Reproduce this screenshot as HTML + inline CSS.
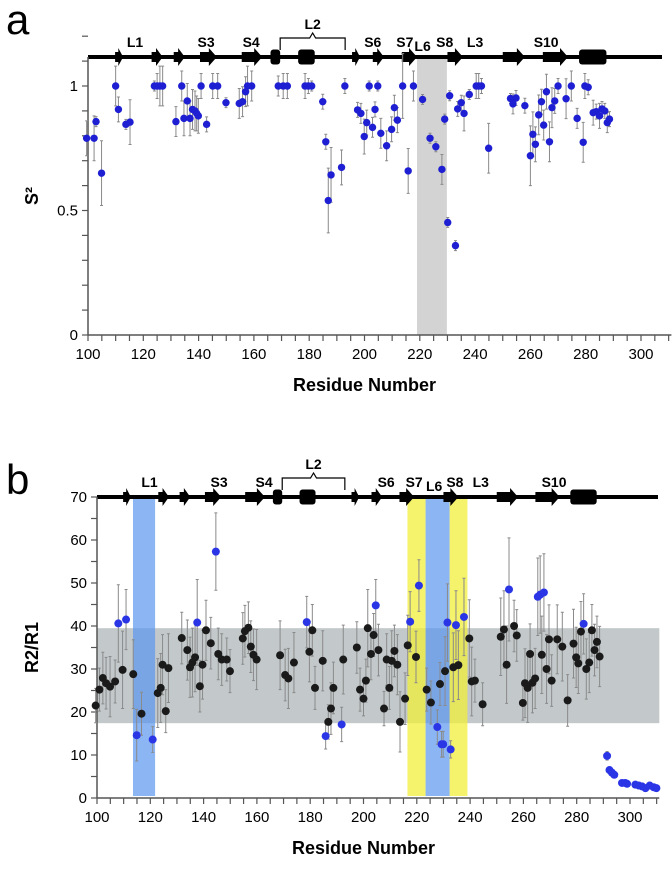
<!DOCTYPE html>
<html><head><meta charset="utf-8"><style>
html,body{margin:0;padding:0;background:#fff}
svg{display:block;font-family:"Liberation Sans",sans-serif}
</style></head><body>
<svg id="chart" width="672" height="874" viewBox="0 0 672 874" xmlns="http://www.w3.org/2000/svg">
<g id="pa"></g>
<g id="pb"></g>
</svg>
<script>
// ---------- data ----------
const aRes=[99.5,102.2,102.9,104.9,110,111,113.7,115.2,124,125,126,127,131.8,133.9,134.7,135.9,136.9,137.8,138.7,139.3,139.9,140.9,142.9,145.1,146.9,149.9,154.7,155.9,157,157.7,159.2,168.8,170.6,172.1,178.5,179.7,180.9,184.9,186,186.9,187.9,191.7,192.9,197.5,198.7,199.9,200.8,201.7,202.9,203.8,204.8,205.9,208,209.8,210.8,211.9,213.8,215.8,217.7,221,223.7,225.8,228,229,230.1,230.8,232.9,233.7,235,236,237.9,240.4,241.3,242.3,244.9,252.8,253.7,254.8,258,260,260.9,261.8,263,264,264.8,265.8,266.9,267.8,268.8,270,272.9,274.8,276.9,279.1,279.7,280.9,282.7,283.8,285,285.9,286.9,287.8,288.6];
const aVal=[.79,.79,.857,.65,1,.906,.846,.855,1,1,1,1,.857,1,.87,.94,.87,.906,.9,.89,.88,1,.846,1,1,.933,.93,.937,.977,1,1,1,1,1,1,1,1,.937,.776,.54,.643,.673,1,.904,.89,.797,.853,1,.834,.906,1,.81,.76,.826,.913,.863,1,.659,1,.946,.79,.756,.665,.867,.452,.961,.359,.908,.933,.89,.966,1,1,1,.75,.95,.928,.952,.921,.72,.806,.766,.884,.937,.843,.977,.776,.913,.94,1,.949,1,.87,.774,1,.995,.893,.897,.88,.908,.9,.853,.867];
const aErr=[.07,.09,.02,.13,.08,.05,.02,.09,.02,.05,.08,.08,.06,.06,.07,.07,.07,.08,.08,.07,.07,.05,.03,.05,.05,.02,.06,.06,.06,.08,.06,.04,.05,.05,.05,.03,.02,.03,.03,.13,.11,.07,.03,.03,.04,.07,.05,.02,.04,.03,.02,.06,.06,.05,.05,.05,.13,.09,.06,.02,.02,.02,.06,.02,.02,.02,.02,.03,.03,.07,.02,.05,.05,.03,.1,.02,.04,.03,.03,.12,.09,.07,.08,.05,.06,.07,.08,.08,.05,.03,.08,.06,.04,.08,.05,.03,.05,.03,.05,.03,.03,.04,.03];

const bRes=[99.5,100.9,102.2,103.4,104.9,106.8,108,109.6,110.9,113.6,114.9,116.7,120.9,122.8,123.9,124.6,125.8,126.8,131.8,133.9,134.9,135.8,136.8,137.6,138.6,139.6,140.9,142.7,144.6,145.5,146.8,148.7,149.9,154.7,155.5,156.8,157.7,158.7,159.9,168.7,170.6,171.8,173.9,178.7,179.7,180.8,181.8,184.7,185.8,186.8,187.8,188.7,191.8,192.4,197.5,198.7,200,200.9,201.6,202.8,203.8,204.6,205.6,207.7,208.7,209.7,210.6,211.6,212.7,213.7,215.6,216.6,217.5,219.7,220.8,223.7,225.3,227.7,228.7,229.3,229.9,230.6,231.5,232.7,233.7,234.7,235.6,237.7,239.7,240.6,241.8,244.7,251.5,252.7,253.7,254.6,256.5,257.5,259.8,260.6,261.6,262.5,263.4,264.4,265.4,266.3,266.9,267.7,268.7,269.6,270.6,272.7,274.6,276.6,278.8,279.8,280.6,281.6,282.6,283.6,284.7,285.7,286.7,287.6,288.6,291.4,292.3,293.2,294.1,297,298.2,298.9,302,303.3,304.5,305.8,307.4,308.9,309.9];
const bVal=[21.5,25.2,27.9,26.7,25.9,27.1,40.6,29.8,41.5,28.8,14.6,19.6,13.6,24.4,25.6,31,20.2,30.2,37.2,34.4,30.4,31.5,32.7,40.8,26,31,39,36,57.3,33.5,32.2,32.2,29.5,37.1,38.8,39.6,35.2,33.3,32.2,33.2,28.6,27.8,31.5,40.9,34,39,25.6,31.9,14.4,17.7,20.8,25.6,17.1,32.2,35,25.2,23.1,27.3,39.5,33.5,37.9,44.8,34.4,20.8,32.2,25.6,31.9,34.2,31,17.7,23.1,35.5,41,32.8,49.4,25.2,22.2,16.5,26.5,12.5,12.5,29.5,40.8,11.3,30.4,40.2,30.9,42.1,37.1,27.1,27.3,21.8,37.5,39.2,31,48.5,40,37.8,22.1,26.7,25.6,33.5,26.8,27.8,46.8,47.3,33.3,47.8,30,36.9,27.3,36.9,35.2,22.7,35.9,32.7,31.3,38.7,40.5,30,31.5,39,34.4,36.3,32.9,9.8,6.5,5.9,5.4,3.5,3.5,3.3,3.1,2.9,2.7,2.3,2.9,2.5,2.3];
const bErr=[4,5,6,6,7,5,9,9,7,8,6,5,3,8,8,7,5,8,6,7,7,8,8,10,6,8,7,6,9,6,6,5,5,6,6,6,6,6,7,8,6,7,7,6,7,6,5,7,3,4,6,6,4,8,6,5,4,5,9,6,5,6,6,4,6,5,7,6,7,7,6,7,7,6,6,5,5,4,5,3,3,8,9,2,8,8,8,9,9,8,5,5,9,9,9,12,6,6,4,8,8,7,7,7,9,9,9,9,8,8,6,8,8,6,8,7,7,7,7,7,7,6,6,6,7,1,0.5,0.5,0.5,0.5,0.5,0.5,0.3,0.3,0.3,0.3,0.3,0.3,0.3];
const bBlue=[0,0,0,0,0,0,1,0,1,0,1,0,1,0,0,0,0,0,0,0,0,0,0,1,0,0,0,0,1,0,0,0,0,0,0,0,0,0,0,0,0,0,0,1,0,0,0,0,1,0,0,0,1,0,0,0,0,0,0,0,0,1,0,0,0,0,0,0,0,0,0,0,1,0,1,0,0,1,0,1,1,0,1,1,0,1,0,1,0,0,0,0,0,0,0,1,0,0,0,0,0,0,0,0,1,1,0,1,0,0,0,0,0,0,0,0,0,0,1,0,0,0,0,0,0,1,1,1,1,1,1,1,1,1,1,1,1,1,1];

const xTicks=[100,120,140,160,180,200,220,240,260,280,300];
const aYTicks=[0,0.5,1];
const aYLabels=["0","0.5","1"];
const bYTicks=[0,10,20,30,40,50,60,70];

const arrows=[[109.8,112.7],[123,127],[131,135],[140.5,146.6],[155.6,163],[195.5,198.4],[203,207],[213.5,219],[230,235.6],[250,258],[264.5,273.6]];
const boxes=[[166,169.5],[176,182],[277.6,287.5]];
const ssLabels=["L1","S3","S4","S6","S7","L6","S8","L3","S10"];
const ssLabelResA=[117,142.7,159,203,214.6,221,229,240,265.7];
const ssLabelResB=[119.7,145.8,162.7,208.5,219,226.5,234.3,244,271.5];
const braceRange=[169.5,193];
const aShade=[219,229.8];
const bGreyBand=[17.4,39.5];
const bBlueBands=[[113.5,121.8],[223.3,232.3]];
const bYellowBands=[[216.5,223.3],[232.3,239]];

// ---------- helpers ----------
const NS="http://www.w3.org/2000/svg";
function mk(parent,tag,attrs,text){const e=document.createElementNS(NS,tag);for(const k in attrs)e.setAttribute(k,attrs[k]);if(text!==undefined)e.textContent=text;parent.appendChild(e);return e;}

function panel(g,o){
  const X=v=>o.x0+(v-100)*o.kx;
  const Y=v=>o.y0-(v-o.ymin)*o.ky;
  o.bands(g,X,Y);
  const sb=mk(g,'g',{});
  
  
  mk(sb,'line',{x1:o.x0,x2:o.barEnd,y1:o.barY,y2:o.barY,stroke:'#000','stroke-width':4});
  arrows.forEach(a=>{
    const x1=X(a[0]),x2=X(a[1]),w=x2-x1,hl=Math.min(8,w*0.6);
    const p=mk(sb,'path',{d:`M${x1},${o.barY-5}H${x2-hl}V${o.barY-9}L${x2},${o.barY}L${x2-hl},${o.barY+9}V${o.barY+5}H${x1}Z`,fill:'#000'});
    
    
  });
  boxes.forEach(b=>{
    const r=mk(sb,'rect',{x:X(b[0]),y:o.barY-7.5,width:X(b[1])-X(b[0]),height:15,rx:3,fill:'#000'});
    
    
  });
  const bx1=X(braceRange[0]),bx2=X(braceRange[1]),bm=(bx1+bx2)/2,bt=o.barY-19;
  const br=mk(sb,'path',{d:`M${bx1},${o.barY-7}V${bt}H${bm-3}l3,-5l3,5H${bx2}V${o.barY-7}`,fill:'none',stroke:'#000','stroke-width':1.2});
  
  
  const l2=mk(sb,'text',{x:bm,y:bt-9,'text-anchor':'middle','font-size':14,'font-weight':'bold'},'L2');
  
  
  ssLabels.forEach((s,i)=>{
    const dy=(s==='L6')?4:0;
    const t=mk(sb,'text',{x:X(o.labRes[i]),y:o.barY-10+dy,'text-anchor':'middle','font-size':14,'font-weight':'bold'},s);
    
    
  });
  const ax=mk(g,'g',{});
  
  
  mk(ax,'line',{x1:o.x0,x2:o.x0,y1:o.y0,y2:o.barY,stroke:'#555','stroke-width':1.5});
  mk(ax,'line',{x1:o.x0,x2:X(311),y1:o.y0,y2:o.y0,stroke:'#555','stroke-width':1.5});
  for(let v=100;v<=310;v+=5) mk(ax,'line',{x1:X(v),x2:X(v),y1:o.y0,y2:o.y0+6,stroke:'#555','stroke-width':1.2});
  for(let v=o.ymin;v<=o.ymaxTick+1e-9;v+=o.yminor) mk(ax,'line',{x1:o.x0-6,x2:o.x0,y1:Y(v),y2:Y(v),stroke:'#555','stroke-width':1.2});
  xTicks.forEach(v=>{const t=mk(ax,'text',{x:X(v),y:o.y0+24,'text-anchor':'middle','font-size':15},String(v));
    });
  o.yt.forEach((v,i)=>{const t=mk(ax,'text',{x:o.x0-10,y:Y(v)+5,'text-anchor':'end','font-size':15},o.yl[i]);
    });
  const xt=mk(ax,'text',{x:(o.x0+X(300))/2,y:o.y0+56,'text-anchor':'middle','font-size':18,'font-weight':'bold'},'Residue Number');
  
  const yt=mk(ax,'text',{x:0,y:0,'text-anchor':'middle','font-size':18,'font-weight':'bold',transform:`translate(${o.ytX},${(o.y0+o.barY)/2}) rotate(-90)`},o.ytitle);
  
  const pl=mk(g,'text',{x:6,y:o.letterY,'font-size':42},o.letter);
  
  const pts=mk(g,'g',{});
  
  
  o.res.forEach((r,i)=>{
    const x=X(r),e=o.err[i];
    const eb=mk(pts,'path',{d:`M${x},${Y(o.val[i]+e)}V${Y(o.val[i]-e)}M${x-1.5},${Y(o.val[i]+e)}h3M${x-1.5},${Y(o.val[i]-e)}h3`,stroke:'#8a8a8a','stroke-width':1,fill:'none'});
    
    
  });
  o.res.forEach((r,i)=>{
    const c=mk(pts,'circle',{cx:X(r),cy:Y(o.val[i]),r:o.r,fill:o.color(i)});
    
    
  });
}

panel(document.getElementById('pa'),{
  x0:88,kx:2.765,y0:335,ymin:0,ky:249,barY:57,barEnd:662,ymaxTick:1.2,yminor:0.1,
  yt:aYTicks,yl:aYLabels,ytitle:'S²',ytX:38,letter:'a',letterY:34,labRes:ssLabelResA,
  res:aRes,val:aVal,err:aErr,r:3.7,color:()=>'#1e1ed2',
  bands:(g,X,Y)=>{const s=mk(g,'rect',{x:X(aShade[0]),y:57,width:X(aShade[1])-X(aShade[0]),height:335-57,fill:'#d3d3d3'});
    }
});

panel(document.getElementById('pb'),{
  x0:97,kx:2.665,y0:798,ymin:0,ky:4.3,barY:497,barEnd:658,ymaxTick:70,yminor:5,
  yt:bYTicks,yl:bYTicks.map(String),ytitle:'R2/R1',ytX:38,letter:'b',letterY:494,labRes:ssLabelResB,
  res:bRes,val:bVal,err:bErr,r:4,color:i=>bBlue[i]?'#2a35e6':'#1a1a1a',
  bands:(g,X,Y)=>{
    const gb=mk(g,'rect',{x:97,y:Y(bGreyBand[1]),width:X(311)-97,height:Y(bGreyBand[0])-Y(bGreyBand[1]),fill:'#c3c9cb'});
    
    bYellowBands.forEach(b=>{const r=mk(g,'rect',{x:X(b[0]),y:499,width:X(b[1])-X(b[0]),height:297,fill:'#f2ee3a','fill-opacity':0.75});
      });
    bBlueBands.forEach(b=>{const r=mk(g,'rect',{x:X(b[0]),y:499,width:X(b[1])-X(b[0]),height:297,fill:'#5b95f0','fill-opacity':0.7});
      });
  }
});
</script>
</body></html>
